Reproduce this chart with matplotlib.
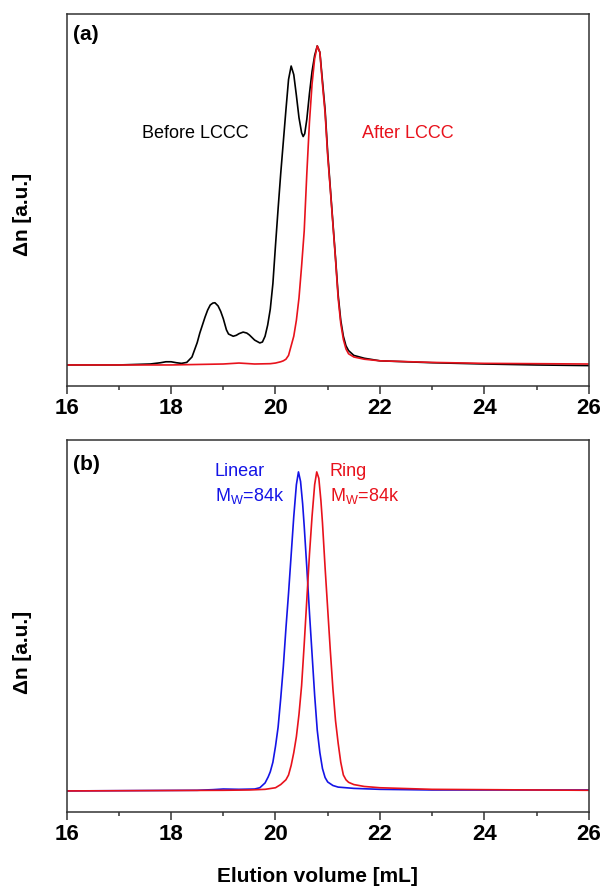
import matplotlib
matplotlib.use("Agg")
import matplotlib.pyplot as plt
from matplotlib.ticker import MultipleLocator

plt.rcParams['font.family'] = ['Liberation Sans', 'DejaVu Sans']
plt.rcParams['mathtext.fontset'] = 'custom'
plt.rcParams['mathtext.rm'] = 'Liberation Sans'
plt.rcParams['mathtext.it'] = 'Liberation Sans'

RED = '#e8121c'
BLUE = '#1414e6'

# ---- panel (a): before / after LCCC (baseline 0, main peak 1) ----
before_x = [16.0, 17.0, 17.6, 17.8, 17.9, 18.0, 18.1, 18.2, 18.3, 18.4, 18.5, 18.55, 18.6, 18.65,
            18.7, 18.75, 18.8, 18.84, 18.9, 18.95, 19.0, 19.06, 19.1, 19.19, 19.25, 19.3, 19.38,
            19.45, 19.5, 19.6, 19.7, 19.75, 19.8, 19.85, 19.9, 19.95, 20.0, 20.05, 20.1, 20.15,
            20.2, 20.25, 20.3, 20.35, 20.4, 20.45, 20.5, 20.53, 20.56, 20.6, 20.65, 20.7, 20.75,
            20.8, 20.85, 20.9, 20.95, 21.0, 21.05, 21.1, 21.15, 21.2, 21.25, 21.3, 21.35, 21.4,
            21.5, 21.7, 22.0, 23.0, 24.0, 25.0, 26.0]
before_y = [0.0, 0.0, 0.003, 0.007, 0.01, 0.01, 0.007, 0.005, 0.008, 0.025, 0.07, 0.1, 0.125, 0.15,
            0.172, 0.188, 0.194, 0.195, 0.185, 0.168, 0.145, 0.11, 0.097, 0.09, 0.093, 0.098, 0.103,
            0.1, 0.094, 0.078, 0.069, 0.072, 0.09, 0.125, 0.175, 0.255, 0.375, 0.49, 0.6, 0.7,
            0.8, 0.895, 0.937, 0.91, 0.845, 0.775, 0.728, 0.716, 0.725, 0.77, 0.85, 0.92, 0.97,
            1.0, 0.98, 0.89, 0.8, 0.665, 0.555, 0.445, 0.335, 0.22, 0.14, 0.09, 0.06, 0.045,
            0.03, 0.021, 0.013, 0.007, 0.003, 0.0, -0.002]

after_x = [16.0, 18.0, 19.0, 19.3, 19.6, 19.9, 20.0, 20.1, 20.15, 20.2, 20.25, 20.3, 20.35, 20.4,
           20.45, 20.5, 20.55, 20.6, 20.65, 20.7, 20.75, 20.8, 20.85, 20.9, 20.95, 21.0, 21.05,
           21.1, 21.15, 21.2, 21.25, 21.3, 21.35, 21.4, 21.5, 21.7, 22.0, 23.0, 24.0, 25.0, 26.0]
after_y = [0.0, 0.0, 0.003, 0.006, 0.003, 0.004, 0.006, 0.01, 0.013, 0.018, 0.03, 0.06, 0.09, 0.14,
           0.21, 0.31, 0.42, 0.6, 0.76, 0.88, 0.96, 1.0, 0.98, 0.88, 0.79, 0.655, 0.55,
           0.44, 0.33, 0.21, 0.13, 0.08, 0.05, 0.035, 0.025, 0.018, 0.013, 0.008, 0.005, 0.004, 0.003]

# ---- panel (b): linear vs ring ----
linear_x = [16.0, 18.5, 18.8, 19.0, 19.3, 19.6, 19.7, 19.8, 19.86, 19.9, 19.95, 20.0, 20.05, 20.1,
            20.15, 20.2, 20.25, 20.3, 20.35, 20.4, 20.44, 20.48, 20.52, 20.55, 20.6, 20.65, 20.7,
            20.75, 20.8, 20.85, 20.9, 20.95, 21.0, 21.1, 21.2, 21.5, 22.0, 23.0, 26.0]
linear_y = [0.0, 0.002, 0.004, 0.006, 0.005, 0.006, 0.01, 0.025, 0.044, 0.06, 0.09, 0.14, 0.2, 0.29,
            0.39, 0.51, 0.62, 0.74, 0.86, 0.96, 1.0, 0.97, 0.9, 0.83, 0.7, 0.56, 0.43,
            0.3, 0.19, 0.12, 0.07, 0.042, 0.028, 0.017, 0.012, 0.008, 0.005, 0.003, 0.003]

ring_x = [16.0, 19.0, 19.5, 19.8, 20.0, 20.1, 20.2, 20.25, 20.3, 20.35, 20.4, 20.45, 20.5, 20.55,
          20.6, 20.65, 20.7, 20.75, 20.79, 20.83, 20.87, 20.9, 20.95, 21.0, 21.05, 21.1, 21.15,
          21.2, 21.25, 21.3, 21.35, 21.4, 21.5, 21.7, 22.0, 23.0, 26.0]
ring_y = [0.0, 0.002, 0.003, 0.005, 0.01, 0.02, 0.035, 0.05, 0.08, 0.12, 0.17, 0.24, 0.33, 0.46,
          0.6, 0.74, 0.86, 0.96, 1.0, 0.98, 0.91, 0.84, 0.7, 0.57, 0.44, 0.32, 0.22,
          0.15, 0.09, 0.05, 0.035, 0.027, 0.02, 0.014, 0.01, 0.005, 0.002]

fig = plt.figure(figsize=(6.03, 8.88), dpi=100)
ax1 = fig.add_axes([0.1106, 0.5653, 0.8657, 0.4189])
ax2 = fig.add_axes([0.1106, 0.0856, 0.8657, 0.4189])

ax1.plot(before_x, before_y, color='black', lw=1.2)
ax1.plot(after_x, after_y, color=RED, lw=1.2)
ax2.plot(linear_x, linear_y, color=BLUE, lw=1.2)
ax2.plot(ring_x, ring_y, color=RED, lw=1.2)

for ax in (ax1, ax2):
    ax.set_xlim(16, 26)
    ax.set_ylim(-0.066, 1.10)
    ax.xaxis.set_major_locator(MultipleLocator(2))
    ax.xaxis.set_minor_locator(MultipleLocator(1))
    ax.tick_params(axis='x', which='major', direction='out', length=5.5, width=1.1,
                   labelsize=16, pad=3, color='#333333')
    ax.tick_params(axis='x', which='minor', direction='out', length=3, width=1.1, color='#333333')
    ax.set_yticks([])
    for lab in ax.get_xticklabels():
        lab.set_fontweight('bold')
    for sp in ax.spines.values():
        sp.set_linewidth(1.1)
        sp.set_color('#333333')

ax1.set_ylabel('Δn [a.u.]', fontsize=15, fontweight='bold')
ax1.yaxis.set_label_coords(-0.066, 0.46)
ax2.set_ylabel('Δn [a.u.]', fontsize=15, fontweight='bold')
ax2.yaxis.set_label_coords(-0.066, 0.43)

ax1.text(0.012, 0.944, '(a)', transform=ax1.transAxes, fontsize=15, fontweight='bold', va='center')
ax2.text(0.012, 0.935, '(b)', transform=ax2.transAxes, fontsize=15, fontweight='bold', va='center')

ax1.text(17.44, 0.727, 'Before LCCC', fontsize=13, color='black', va='center')
ax1.text(21.66, 0.727, 'After LCCC', fontsize=13, color=RED, va='center')

ax2.text(18.84, 1.0, 'Linear', fontsize=13, color=BLUE, va='center')
ax2.text(18.84, 0.925, 'M$_\\mathregular{W}$=84k', fontsize=13, color=BLUE, va='center')
ax2.text(21.04, 1.0, 'Ring', fontsize=13, color=RED, va='center')
ax2.text(21.04, 0.925, 'M$_\\mathregular{W}$=84k', fontsize=13, color=RED, va='center')

fig.text(0.5266, 0.0124, 'Elution volume [mL]', fontsize=15, fontweight='bold',
         ha='center', va='center')

fig.savefig('out.png', dpi=100)
